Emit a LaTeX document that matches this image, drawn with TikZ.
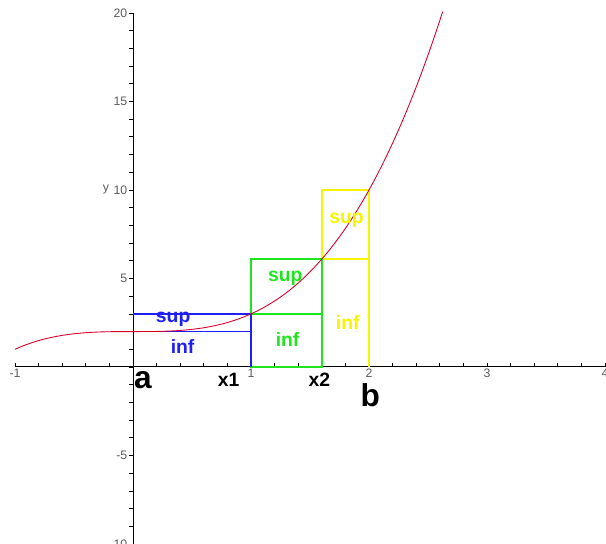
\documentclass[tikz,border=0pt]{standalone}
\usepackage{fontspec}
\setmainfont{Liberation Sans}
\usetikzlibrary{positioning}
\definecolor{curvered}{RGB}{215,0,40}
\definecolor{partblue}{RGB}{30,30,245}
\definecolor{partgreen}{RGB}{30,230,30}
\definecolor{partyellow}{RGB}{245,245,0}
\definecolor{tickgray}{RGB}{90,90,90}

\begin{document}
\begin{tikzpicture}[x=2.36cm, y=0.354cm, line width=0.55pt,
    ticklab/.style={text=tickgray, font=\fontsize{7}{8}\selectfont, inner sep=1pt},
    part/.style={line width=0.8pt},
    tag/.style={font=\fontsize{11}{12}\selectfont\bfseries, inner sep=0pt},
    endtag/.style={font=\fontsize{18}{19}\selectfont\bfseries, inner sep=0pt}]

\useasboundingbox (-1.127,-10) rectangle (4.008,20.73);

% axes and ticks
\draw (-1,0) -- (4,0);
\draw (0,-10) -- (0,20);
\foreach \i in {0,...,25} \draw[line width=0.4pt] ({-1+0.2*\i},0) -- ++(0pt,2.5pt);
\foreach \i in {-10,...,20} \draw[line width=0.4pt] (0,\i) -- ++(-2.5pt,0pt);
\foreach \v/\n in {-1/m1,1/p1,2/p2,3/p3,4/p4}
  \node[ticklab, below] (xlab\n) at (\v,0) {\v};
\foreach \v/\n in {-10/m10,-5/m5,5/p5,10/p10,15/p15,20/p20}
  \node[ticklab, left=2pt] (ylab\n) at (0,\v) {\v};
\node[ticklab] (ylab) at (-0.23,10.05) {y};

% lower and upper sums, right to left
\draw[part, partyellow] (1.6,6.096) -- (2,6.096);
\draw[part, partyellow] (1.6,6.096) -- (1.6,10) -- (2,10) -- (2,0);
\draw[part, partgreen] (1,0) rectangle (1.6,6.096);
\draw[part, partgreen] (1,3) -- (1.6,3);
\draw[part, partblue] (0,2) -- (1,2);
\draw[part, partblue] (0,3) -- (1,3) -- (1,0);

% the function
\draw[curvered, line width=0.5pt, domain=-1:2.625, samples=120] plot (\x,{\x*\x*\x+2});

\node[tag, text=partblue] (supA) at (0.34,2.71) {sup};
\node[tag, text=partblue] (infA) at (0.42,1.13) {inf};
\node[tag, text=partgreen] (supB) at (1.29,5.03) {sup};
\node[tag, text=partgreen] (infB) at (1.31,1.53) {inf};
\node[tag, text=partyellow] (supC) at (1.81,8.3) {sup};
\node[tag, text=partyellow] (infC) at (1.82,2.54) {inf};

\node[endtag] (ptA) at (0.085,-0.73) {a};
\node[tag] (ptX1) at (0.81,-0.73) {x1};
\node[tag] (ptX2) at (1.58,-0.73) {x2};
\node[endtag] (ptB) at (2.01,-1.58) {b};

\end{tikzpicture}
\end{document}
